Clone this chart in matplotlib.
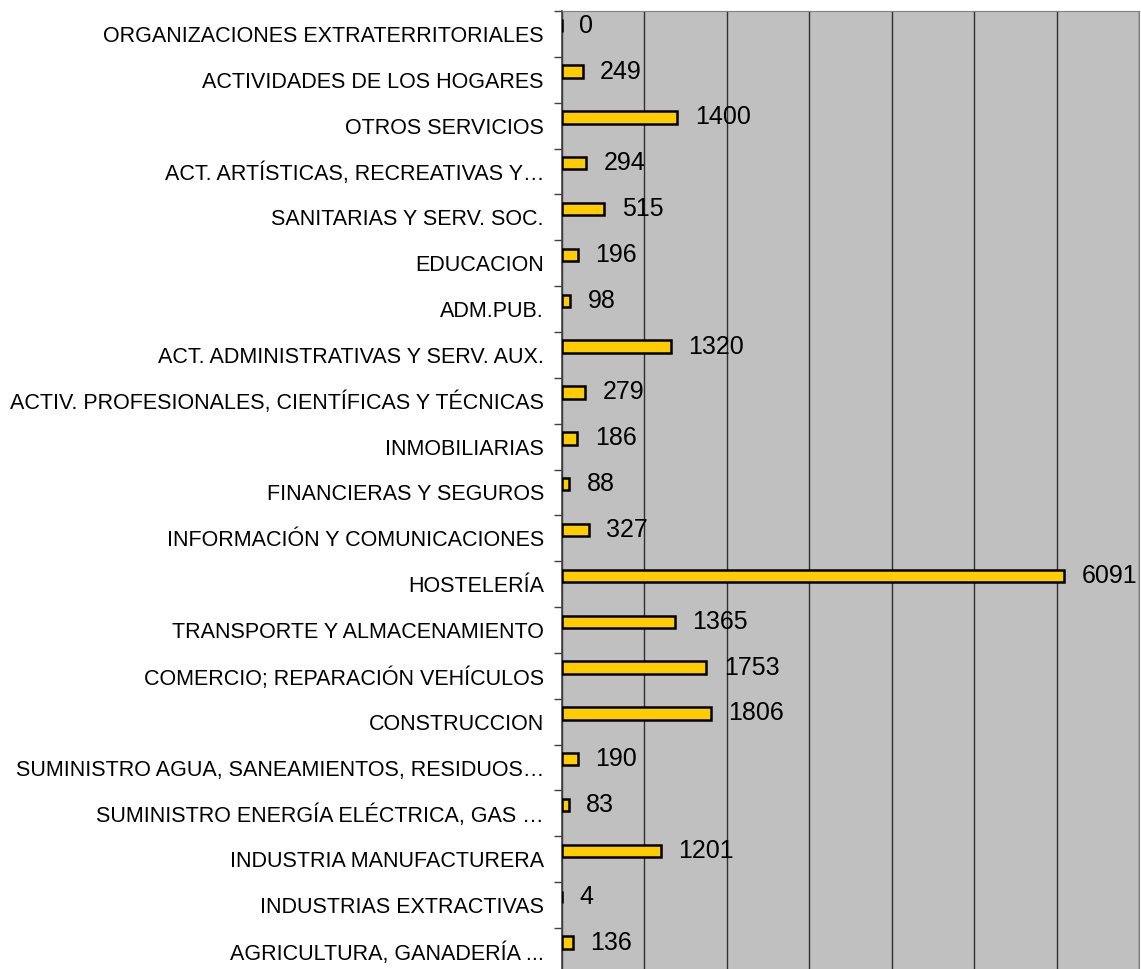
import matplotlib
matplotlib.use("Agg")
import matplotlib.pyplot as plt
import numpy as np

categories = [
    "AGRICULTURA, GANADERÍA ...",
    "INDUSTRIAS EXTRACTIVAS",
    "INDUSTRIA MANUFACTURERA",
    "SUMINISTRO ENERGÍA ELÉCTRICA, GAS …",
    "SUMINISTRO AGUA, SANEAMIENTOS, RESIDUOS…",
    "CONSTRUCCION",
    "COMERCIO; REPARACIÓN VEHÍCULOS",
    "TRANSPORTE Y ALMACENAMIENTO",
    "HOSTELERÍA",
    "INFORMACIÓN Y COMUNICACIONES",
    "FINANCIERAS Y SEGUROS",
    "INMOBILIARIAS",
    "ACTIV. PROFESIONALES, CIENTÍFICAS Y TÉCNICAS",
    "ACT. ADMINISTRATIVAS Y SERV. AUX.",
    "ADM.PUB.",
    "EDUCACION",
    "SANITARIAS Y SERV. SOC.",
    "ACT. ARTÍSTICAS, RECREATIVAS Y…",
    "OTROS SERVICIOS",
    "ACTIVIDADES DE LOS HOGARES",
    "ORGANIZACIONES EXTRATERRITORIALES",
]
values = [136, 4, 1201, 83, 190, 1806, 1753, 1365, 6091, 327, 88, 186, 279,
          1320, 98, 196, 515, 294, 1400, 249, 0]

plt.rcParams['font.family'] = ['Liberation Sans', 'DejaVu Sans']

fig = plt.figure(figsize=(11.41, 9.69), dpi=100)
H = 969.0
top_px, cat_h = 11.0, 45.85
n = len(categories)
bottom_px = top_px + n * cat_h
ax = fig.add_axes([562/1141, 1 - bottom_px/H, (1139-562)/1141, (bottom_px-top_px)/H])
ax.set_facecolor('#C0C0C0')

y = np.arange(n)
bar_off = 0.18
ax.barh(y + bar_off, values, height=0.27, color='#FFCC00', edgecolor='black',
        linewidth=1.8, zorder=3)
for yi, v in zip(y, values):
    ax.annotate(str(v), (v, yi + bar_off), xytext=(12.5, 0), textcoords='offset points',
                va='center', ha='left', fontsize=18, color='black', zorder=4,
                annotation_clip=False)

ax.set_xlim(0, 7000)
ax.set_ylim(-0.5, n - 0.5)
ax.set_xticks(np.arange(0, 7001, 1000))
ax.xaxis.grid(True, color='#303030', linewidth=1.0, zorder=1)
ax.tick_params(axis='x', length=0, labelbottom=False)

ax.set_yticks(y)
ax.set_yticklabels(categories, fontsize=15.5)
ax.set_yticks(np.arange(-0.5, n, 1.0), minor=True)
ax.tick_params(axis='y', which='major', length=0, pad=13)
ax.tick_params(axis='y', which='minor', length=6, color='#404040', width=1)

for s in ['top', 'right', 'bottom']:
    ax.spines[s].set_color('#808080')
ax.spines['left'].set_color('#404040')
ax.spines['left'].set_linewidth(1.2)

fig.savefig('out.png', dpi=100)
